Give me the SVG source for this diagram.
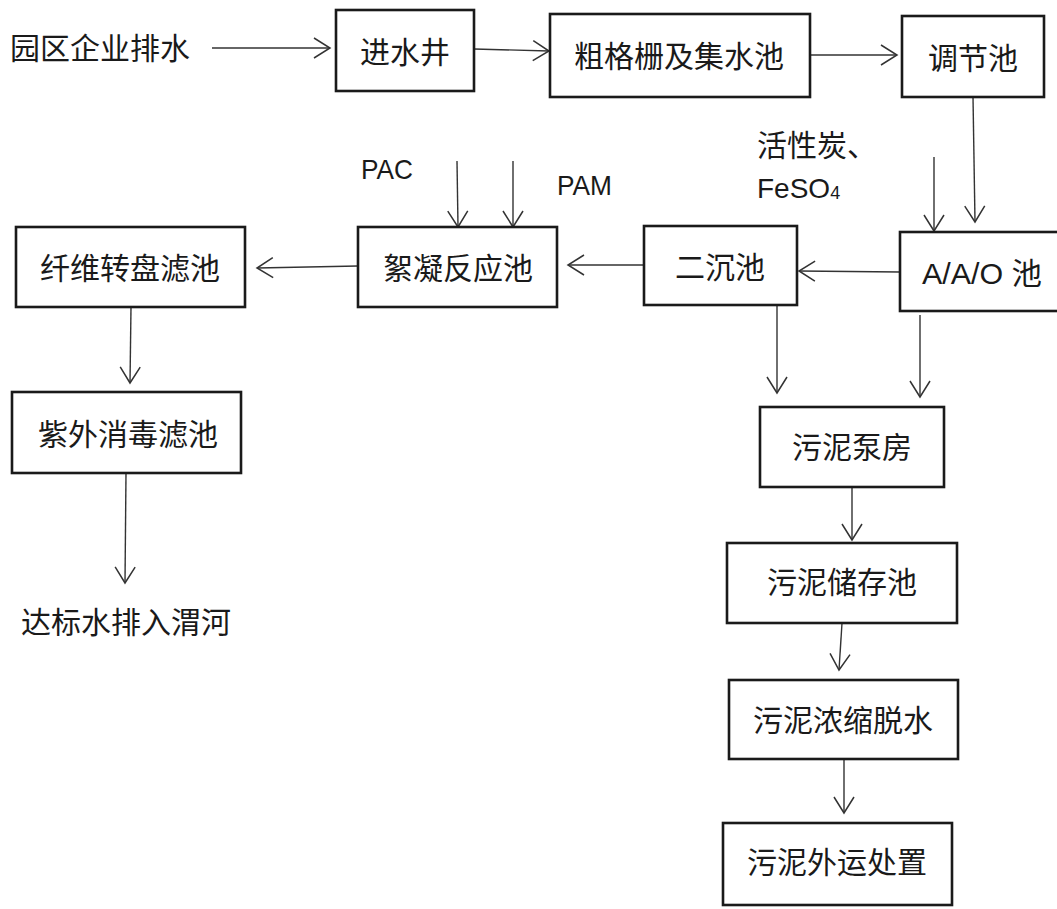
<svg xmlns="http://www.w3.org/2000/svg" width="1057" height="909" viewBox="0 0 1057 909">
<style>
.box{fill:#fff;stroke:#1a1a1a;stroke-width:2.6}
.t{font-family:"Liberation Sans","Noto Sans CJK SC",sans-serif;font-size:30px;fill:#1a1a1a;text-anchor:middle;dominant-baseline:central}
.tl{font-family:"Liberation Sans","Noto Sans CJK SC",sans-serif;font-size:30px;fill:#1a1a1a;dominant-baseline:central}
.lat{font-family:"Liberation Sans","Noto Sans CJK SC",sans-serif;font-size:28px;fill:#1a1a1a;dominant-baseline:central}
.c{fill:none;stroke:#333;stroke-width:1.4;marker-end:url(#ah)}
</style>
<defs>
<marker id="ah" markerUnits="userSpaceOnUse" markerWidth="20" markerHeight="24" viewBox="0 0 20 24" refX="17" refY="12" orient="auto">
<path d="M1,2 L17,12 L1,22" fill="none" stroke="#333" stroke-width="1.5"/>
</marker>
</defs>
<rect width="1057" height="909" fill="#fff"/>
<g id="connectors">
<line class="c" x1="212" y1="48" x2="330" y2="48"/>
<line class="c" x1="474" y1="49" x2="549" y2="51"/>
<line class="c" x1="810" y1="55" x2="897" y2="55"/>
<line class="c" x1="973" y1="97" x2="975" y2="222"/>
<line class="c" x1="934" y1="157" x2="934" y2="231"/>
<line class="c" x1="900" y1="272" x2="799" y2="271"/>
<line class="c" x1="644" y1="265" x2="568" y2="265"/>
<line class="c" x1="358" y1="266" x2="257" y2="268"/>
<line class="c" x1="457" y1="161" x2="458" y2="227"/>
<line class="c" x1="513" y1="161" x2="513" y2="227"/>
<line class="c" x1="131" y1="307" x2="130" y2="383"/>
<line class="c" x1="126" y1="473" x2="125" y2="583"/>
<line class="c" x1="777" y1="305" x2="777" y2="393"/>
<line class="c" x1="920" y1="315" x2="920" y2="397"/>
<line class="c" x1="852" y1="487" x2="852" y2="540"/>
<line class="c" x1="842" y1="623" x2="839" y2="670"/>
<line class="c" x1="844" y1="759" x2="844" y2="813"/>
</g>
<g id="source"><text class="tl" x="10" y="48">园区企业排水</text></g>
<g id="jinshuijing"><rect class="box" x="336" y="10" width="138" height="81"/><text class="t" x="405" y="52">进水井</text></g>
<g id="gezha"><rect class="box" x="550" y="14" width="260" height="83"/><text class="t" x="679" y="56">粗格栅及集水池</text></g>
<g id="tiaojiechi"><rect class="box" x="902" y="16" width="142" height="81"/><text class="t" x="973" y="58">调节池</text></g>
<g id="dosing-aao"><text class="tl" x="757" y="145">活性炭、</text><text class="lat" x="757" y="188" font-size="26">FeSO<tspan font-size="18" dy="5">4</tspan></text></g>
<g id="aao"><rect class="box" x="900" y="232" width="160" height="79"/><text class="tl" x="922" y="273" textLength="120" lengthAdjust="spacingAndGlyphs">A/A/O 池</text></g>
<g id="erchenchi"><rect class="box" x="644" y="226" width="153" height="79"/><text class="t" x="720" y="267">二沉池</text></g>
<g id="pac"><text class="lat" x="361" y="169" textLength="52" lengthAdjust="spacingAndGlyphs">PAC</text></g>
<g id="pam"><text class="lat" x="557" y="185" textLength="55" lengthAdjust="spacingAndGlyphs">PAM</text></g>
<g id="xuning"><rect class="box" x="358" y="227" width="199" height="80"/><text class="t" x="458" y="268">絮凝反应池</text></g>
<g id="xianwei"><rect class="box" x="16" y="227" width="229" height="80"/><text class="t" x="130" y="268">纤维转盘滤池</text></g>
<g id="ziwai"><rect class="box" x="12" y="392" width="229" height="81"/><text class="t" x="128" y="434">紫外消毒滤池</text></g>
<g id="outlet"><text class="t" x="126" y="622">达标水排入渭河</text></g>
<g id="bengfang"><rect class="box" x="760" y="407" width="184" height="80"/><text class="t" x="852" y="447">污泥泵房</text></g>
<g id="chucun"><rect class="box" x="727" y="543" width="230" height="80"/><text class="t" x="842" y="582">污泥储存池</text></g>
<g id="nongsuo"><rect class="box" x="729" y="680" width="229" height="79"/><text class="t" x="843" y="720">污泥浓缩脱水</text></g>
<g id="waiyun"><rect class="box" x="723" y="823" width="229" height="82"/><text class="t" x="837" y="862">污泥外运处置</text></g>
</svg>
